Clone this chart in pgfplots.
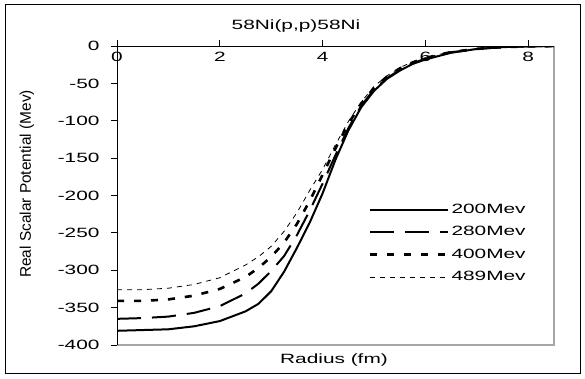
\documentclass[border=0pt]{standalone}
\usepackage{pgfplots}
\pgfplotsset{compat=1.18}
\usepackage{fontspec}
\setmainfont{Liberation Sans}
\newfontfamily\wide[FakeStretch=1.55]{Liberation Sans}
\newcommand{\wf}{\wide\fontsize{13.5}{15}\selectfont}

\pgfplotstableread{
r v
0 -381
0.5 -380
1 -379
1.5 -375
2 -368
2.5 -355
2.75 -345
3 -328
3.25 -302
3.5 -270
3.75 -236
4 -197
4.25 -152
4.5 -113
4.75 -82
5 -60
5.25 -44
5.5 -33
5.75 -24
6 -18
6.5 -9
7 -4
7.5 -1.5
8 -0.5
8.5 -0.2
}\tA
\pgfplotstableread{
r v
0 -365
0.5 -364
1 -362
1.5 -357
2 -348
2.5 -331
2.75 -318
3 -301
3.25 -281
3.5 -253
3.75 -220
4 -184
4.25 -146
4.5 -110
4.75 -80
5 -58
5.25 -43
5.5 -32
5.75 -23
6 -17
6.5 -8.5
7 -4
7.5 -1.5
8 -0.5
8.5 -0.2
}\tB
\pgfplotstableread{
r v
0 -341
0.5 -341
1 -339
1.5 -334
2 -325
2.5 -309
2.75 -297
3 -282
3.25 -263
3.5 -238
3.75 -207
4 -172
4.25 -137
4.5 -104
4.75 -77
5 -56
5.25 -41
5.5 -30
5.75 -22
6 -16
6.5 -8
7 -3.8
7.5 -1.5
8 -0.5
8.5 -0.2
}\tC
\pgfplotstableread{
r v
0 -326
0.5 -326
1 -324
1.5 -319
2 -310
2.5 -293
2.75 -282
3 -268
3.25 -248
3.5 -223
3.75 -193
4 -165
4.25 -132
4.5 -101
4.75 -75
5 -54
5.25 -40
5.5 -29
5.75 -21
6 -15.5
6.5 -7.5
7 -3.6
7.5 -1.4
8 -0.5
8.5 -0.2
}\tD

\begin{document}
\begin{tikzpicture}
\useasboundingbox (0bp,0bp) rectangle (585bp,379bp);
\draw[black, line width=1bp] (5bp,5bp) rectangle (580bp,374bp);
\draw[gray!70, line width=1.2bp] (117bp,34bp) -- (554bp,34bp) -- (554bp,333bp);
\begin{axis}[
  at={(117bp,34bp)}, anchor=south west,
  scale only axis, width=437bp, height=299bp,
  xmin=0, xmax=8.5, ymin=-400, ymax=0,
  axis x line*=top, axis y line*=left,
  axis line style={black, line width=1bp, -},
  xtick={0,2,4,6,8}, ytick={-400,-350,...,0},
  tick style={black, line width=0.8bp},
  major tick length=6bp, tick align=outside,
  /pgf/number format/assume math mode=true,
  ticklabel style={font=\wf},
  xticklabel style={anchor=north, yshift=-9bp},
  yticklabel style={anchor=east, xshift=-8bp},
  legend style={at={(0.576,0.475)}, anchor=north west, draw=none, fill=none,
    inner sep=0pt, font=\wf, row sep=9.5bp, column sep=2bp,
    nodes={inner sep=0pt, text height=10bp, text depth=3bp}},
  legend cell align=left,
  legend image code/.code={\draw[#1] (0bp,0bp) -- (78bp,0bp);},
]
\addplot[black, line width=2bp, solid] table[x=r,y=v]{\tA};
\addlegendentry{200Mev}
\addplot[black, line width=2bp, dash pattern=on 24bp off 11bp] table[x=r,y=v]{\tB};
\addlegendentry{280Mev}
\addplot[black, line width=2.6bp, dash pattern=on 7bp off 10bp] table[x=r,y=v]{\tC};
\addlegendentry{400Mev}
\addplot[black, line width=0.8bp, dash pattern=on 5bp off 5bp] table[x=r,y=v]{\tD};
\addlegendentry{489Mev}
\end{axis}
\node[font=\wf] at (296bp,352.5bp) {58Ni(p,p)58Ni};
\node[font=\wf] at (334bp,19bp) {Radius (fm)};
\node[font=\fontsize{15.5}{17}\selectfont, rotate=90] at (27bp,195bp) {Real Scalar Potential (Mev)};
\end{tikzpicture}
\end{document}
